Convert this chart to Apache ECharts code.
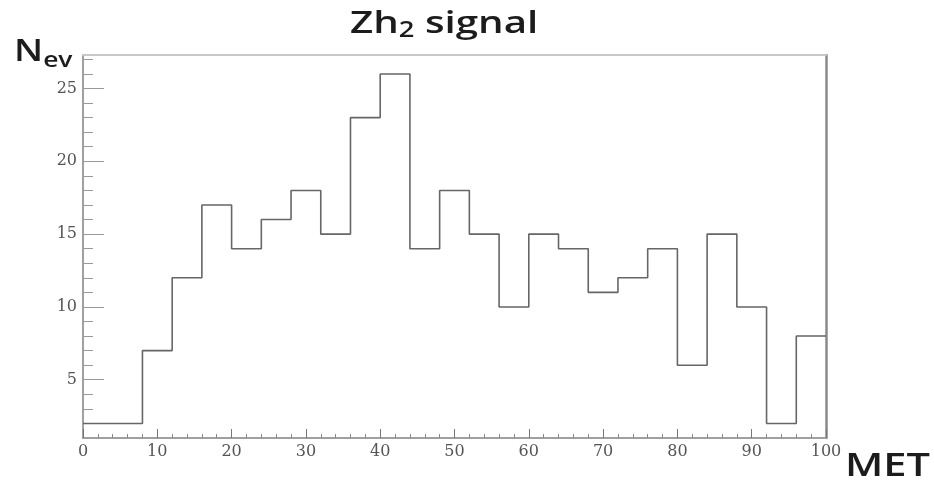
<!DOCTYPE html>
<html>
<head>
<meta charset="utf-8">
<script src="https://cdn.jsdelivr.net/npm/echarts@6/dist/echarts.min.js"></script>
<style>
  html, body { margin: 0; padding: 0; background: #fff; }
  #chart { width: 934px; height: 486px; }
</style>
</head>
<body>
<div id="chart"></div>
<script>
// histogram bins (MET), width 4
const binEdges = [0, 4, 8, 12, 16, 20, 24, 28, 32, 36, 40, 44, 48, 52, 56, 60, 64, 68, 72, 76, 80, 84, 88, 92, 96]
const counts = [2, 2, 7, 12, 17, 14, 16, 18, 15, 23, 26, 14, 18, 15, 10, 15, 14, 11, 12, 14, 6, 15, 10, 2, 8]
const xEnd = 100
const yMajorTicks = [5, 10, 15, 20, 25]
const yMinorTicks = [2, 3, 4, 6, 7, 8, 9, 11, 12, 13, 14, 16, 17, 18, 19, 21, 22, 23, 24, 26, 27]

const histData = binEdges.map((x, i) => [x, counts[i]])
histData.push([xEnd, counts[counts.length - 1]])

const axisGray = '#a0a0a0'
const labelStyle = {
  color: '#555',
  fontFamily: 'DejaVu Serif',
  fontSize: 16
}
const headFont = 'Open Sans'
const headColor = '#1c1c1c'

const chart = echarts.init(document.getElementById('chart'))

chart.setOption({
  animation: false,
  grid: { left: 83, right: 108, top: 55, bottom: 48 },
  graphic: [
    {
      // title
      type: 'text',
      x: 350,
      y: 6,
      scaleX: 1.3,
      style: {
        text: '{a|Zh}{b|2}{a| signal}',
        rich: {
          a: { fontFamily: headFont, fontWeight: 600, fontSize: 31, fill: headColor },
          b: { fontFamily: headFont, fontWeight: 600, fontSize: 21, fill: headColor, padding: [15, 0, 0, 0] }
        }
      }
    },
    {
      type: 'text',
      x: 14,
      y: 33,
      scaleX: 1.2,
      style: {
        text: '{n|N}{s|ev}',
        rich: {
          n: { fontFamily: headFont, fontWeight: 600, fontSize: 31, fill: headColor },
          s: { fontFamily: headFont, fontWeight: 600, fontSize: 22, fill: headColor, padding: [17, 0, 0, 0] }
        }
      }
    },
    {
      type: 'text',
      x: 845,
      y: 451,
      scaleX: 1.3,
      style: {
        text: 'MET',
        fontFamily: headFont,
        fontWeight: 600,
        fontSize: 32,
        fill: headColor
      }
    }
  ],
  xAxis: [
    {
      type: 'value',
      min: 0,
      max: 100,
      interval: 10,
      axisLine: { show: true, lineStyle: { color: axisGray, width: 2 } },
      axisTick: { show: true, inside: true, length: 9, lineStyle: { color: '#777' } },
      minorTick: { show: true, splitNumber: 5, length: 4, lineStyle: { color: '#888' } },
      axisLabel: Object.assign({ margin: 6 }, labelStyle),
      splitLine: { show: false }
    },
    {
      type: 'value',
      position: 'top',
      min: 0,
      max: 100,
      axisLine: { show: true, onZero: false, lineStyle: { color: '#c8c8c8', width: 2 } },
      axisTick: { show: false },
      axisLabel: { show: false },
      splitLine: { show: false }
    }
  ],
  yAxis: [
    {
      type: 'value',
      min: 1,
      max: 27.3,
      axisLine: { show: true, onZero: false, lineStyle: { color: axisGray, width: 2 } },
      axisTick: { show: true, inside: true, length: 21, customValues: yMajorTicks, lineStyle: { color: '#999' } },
      axisLabel: Object.assign({ margin: 6, customValues: yMajorTicks }, labelStyle),
      splitLine: { show: false }
    },
    {
      type: 'value',
      position: 'left',
      min: 1,
      max: 27.3,
      axisLine: { show: false },
      axisTick: { show: true, inside: true, length: 10, customValues: yMinorTicks, lineStyle: { color: '#999' } },
      axisLabel: { show: false },
      splitLine: { show: false }
    },
    {
      type: 'value',
      position: 'right',
      min: 1,
      max: 27.3,
      axisLine: { show: true, onZero: false, lineStyle: { color: '#8a8a8a', width: 2.5 } },
      axisTick: { show: false },
      axisLabel: { show: false },
      splitLine: { show: false }
    }
  ],
  series: [
    {
      type: 'line',
      step: 'end',
      data: histData,
      showSymbol: false,
      lineStyle: { color: '#666', width: 1.6 }
    }
  ]
})
</script>
</body>
</html>
